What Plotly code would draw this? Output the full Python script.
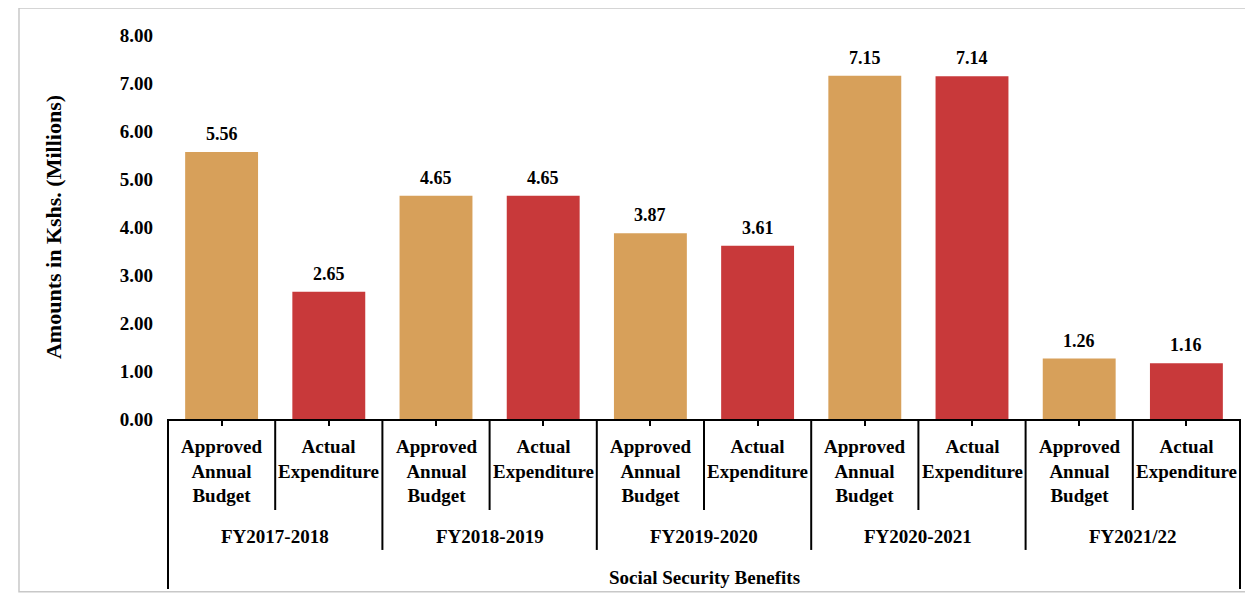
import plotly.graph_objects as go

# ---- data ----
years = ["FY2017-2018", "FY2018-2019", "FY2019-2020", "FY2020-2021", "FY2021/22"]
item_labels = ["Approved<br>Annual<br>Budget", "Actual<br>Expenditure"]
approved = [5.56, 4.65, 3.87, 7.15, 1.26]
actual = [2.65, 4.65, 3.61, 7.14, 1.16]
y_tick_vals = [0, 1, 2, 3, 4, 5, 6, 7, 8]
y_tick_text = ["0.00", "1.00", "2.00", "3.00", "4.00", "5.00", "6.00", "7.00", "8.00"]
outer_label = "Social Security Benefits"
y_title = "Amounts in Kshs. (Millions)"

TAN = "#D7A05A"
RED = "#C8393A"
FONT = "Liberation Serif"

cats, vals, cols, labels = [], [], [], []
for yr, a, e in zip(years, approved, actual):
    cats += [yr + " | A", yr + " | E"]
    vals += [a, e]
    cols += [TAN, RED]
    labels += item_labels

fig = go.Figure()
fig.add_trace(go.Bar(
    x=cats, y=vals, width=0.68,
    marker=dict(color=cols, line=dict(width=0)),
    showlegend=False, hoverinfo="x+y",
))

ann = []
# value labels
for c, v in zip(cats, vals):
    ann.append(dict(x=c, y=v, xref="x", yref="y", text=f"{v:.2f}", showarrow=False,
                    yanchor="bottom", yshift=6,
                    font=dict(family=FONT, size=18, color="black", weight="bold")))
# inner category labels
for c, t in zip(cats, labels):
    ann.append(dict(x=c, y=-0.038, xref="x", yref="paper", text=t, showarrow=False,
                    yanchor="top", align="center",
                    font=dict(family=FONT, size=19, color="black", weight="bold")))
# group labels
for i, yr in enumerate(years):
    ann.append(dict(x=2 * i + 0.5, y=-0.307, xref="x", yref="paper", text=yr, showarrow=False,
                    yanchor="middle",
                    font=dict(family=FONT, size=19, color="black", weight="bold")))
ann.append(dict(x=0.5, y=-0.414, xref="paper", yref="paper", text=outer_label, showarrow=False,
                yanchor="middle",
                font=dict(family=FONT, size=19, color="black", weight="bold")))

shapes = []
line = dict(color="black", width=2)
# dividers between items within a year
for i in range(len(years)):
    shapes.append(dict(type="line", xref="x", yref="paper", x0=2 * i + 0.5, x1=2 * i + 0.5,
                       y0=0, y1=-0.237, line=line))
# dividers between years
for i in range(1, len(years)):
    shapes.append(dict(type="line", xref="x", yref="paper", x0=2 * i - 0.5, x1=2 * i - 0.5,
                       y0=0, y1=-0.341, line=line))
# outer edges
for xp in (0, 1):
    shapes.append(dict(type="line", xref="paper", yref="paper", x0=xp, x1=xp,
                       y0=0, y1=-0.443, line=line))
# chart frame
shapes.append(dict(type="rect", xref="paper", yref="paper",
                   x0=-0.139, x1=1.0141, y0=-0.450, y1=1.07,
                   line=dict(color="#c8c8c8", width=1.5)))

fig.update_layout(
    width=1245, height=589,
    margin=dict(l=160, r=13, t=27, b=178),
    paper_bgcolor="white", plot_bgcolor="white",
    annotations=ann, shapes=shapes,
    xaxis=dict(type="category", range=[-0.5, 9.5], showticklabels=False,
               showline=True, linecolor="black", linewidth=2,
               ticks="outside", ticklen=5, tickcolor="black", tickwidth=1.5,
               showgrid=False, zeroline=False, fixedrange=True),
    yaxis=dict(range=[0, 8], tickvals=y_tick_vals, ticktext=y_tick_text,
               showgrid=False, zeroline=False, showline=False, ticks="",
               ticklabelstandoff=14,
               tickfont=dict(family=FONT, size=19, color="black", weight="bold"),
               title=dict(text=y_title, standoff=52,
                          font=dict(family=FONT, size=22, color="black", weight="bold")),
               fixedrange=True),
)

fig.write_html("out.html")
